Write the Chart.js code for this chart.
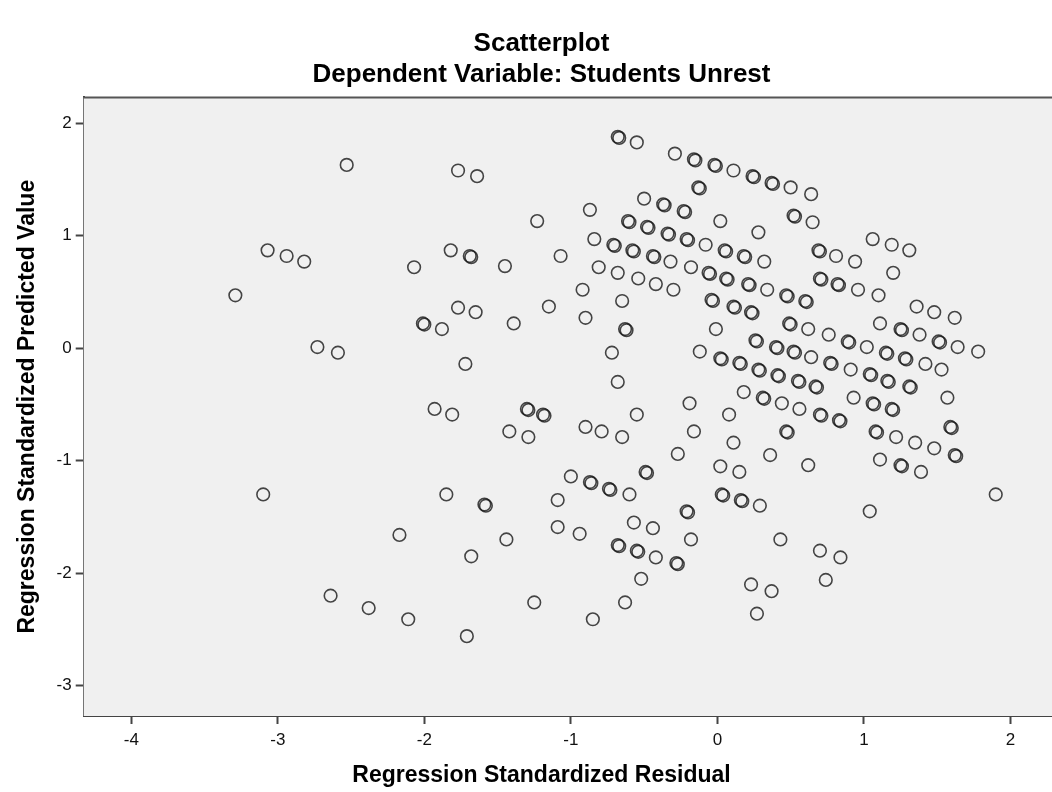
<!DOCTYPE html>
<html>
<head>
<meta charset="utf-8">
<script src="https://cdn.jsdelivr.net/npm/chart.js@4.4.1/dist/chart.umd.min.js"></script>
<style>
  html, body { margin: 0; padding: 0; background: #fff; overflow: hidden; }
  #wrap { width: 1082px; height: 792px; position: relative; }
</style>
</head>
<body>
<div id="wrap"><canvas id="scatter"></canvas></div>
<script>
// Regression Standardized Residual (x) / Regression Standardized Predicted Value (y)
// overlapping cases appear twice, that is what gives the darker rings
const residuals = [
  -3.29, -3.10, -3.07, -2.94, -2.82, -2.73, -2.64, -2.59, -2.53, -2.38,
  -2.17, -2.11, -2.07, -2.01, -2.00, -1.93, -1.88, -1.85, -1.82, -1.81, -1.77,
  -1.77, -1.72, -1.71, -1.69, -1.68, -1.68, -1.65, -1.64, -1.59, -1.58, -1.45, -1.44,
  -1.42, -1.39, -1.30, -1.29, -1.29, -1.25, -1.23, -1.19, -1.18, -1.15, -1.09, -1.09,
  -1.07, -1.00, -0.94, -0.92, -0.90, -0.90, -0.87, -0.86, -0.87, -0.85, -0.84,
  -0.81, -0.79, -0.74, -0.73, -0.72, -0.71, -0.70, -0.68, -0.67, -0.68, -0.68, -0.68, -0.67, -0.65,
  -0.65, -0.63, -0.62, -0.63, -0.61, -0.60, -0.60, -0.58, -0.57, -0.57, -0.55, -0.55, -0.55, -0.54,
  -0.54, -0.52, -0.50, -0.49, -0.48, -0.48, -0.47, -0.44, -0.43, -0.44, -0.42, -0.42, -0.37, -0.36,
  -0.34, -0.33, -0.32, -0.30, -0.29, -0.28, -0.27, -0.27, -0.23, -0.22, -0.21, -0.20, -0.21, -0.20, -0.19,
  -0.18, -0.18, -0.16, -0.15, -0.16, -0.13, -0.12, -0.12, -0.08, -0.06, -0.05, -0.04, -0.03, -0.02, -0.01,
  -0.01, 0.02, 0.02, 0.03, 0.02, 0.03, 0.04, 0.05, 0.06, 0.06, 0.07, 0.08, 0.11, 0.12, 0.11,
  0.11, 0.15, 0.16, 0.15, 0.16, 0.17, 0.18, 0.18, 0.19, 0.21, 0.22, 0.23, 0.23, 0.24, 0.24, 0.25,
  0.26, 0.27, 0.27, 0.28, 0.29, 0.28, 0.29, 0.31, 0.32, 0.32, 0.34, 0.36, 0.37,
  0.37, 0.38, 0.40, 0.41, 0.41, 0.42, 0.43, 0.44, 0.47, 0.48, 0.47, 0.48, 0.49, 0.50, 0.50, 0.52, 0.53,
  0.52, 0.53, 0.55, 0.56, 0.56, 0.60, 0.61, 0.62, 0.62, 0.64, 0.64, 0.65, 0.67, 0.68,
  0.69, 0.70, 0.70, 0.71, 0.70, 0.71, 0.70, 0.74, 0.76, 0.77, 0.78, 0.81, 0.82, 0.83, 0.83, 0.84,
  0.84, 0.89, 0.90, 0.91, 0.93, 0.94, 0.96, 1.02, 1.04, 1.05, 1.04, 1.06,
  1.06, 1.07, 1.08, 1.09, 1.10, 1.11, 1.11, 1.15, 1.16, 1.16, 1.17, 1.19, 1.19, 1.20, 1.20,
  1.22, 1.25, 1.26, 1.25, 1.26, 1.28, 1.29, 1.31, 1.32, 1.31, 1.35, 1.36, 1.38, 1.39,
  1.42, 1.48, 1.48, 1.51, 1.52, 1.53, 1.57, 1.59, 1.60, 1.62, 1.62, 1.63, 1.64, 1.78, 1.90
];

const predicted = [
  0.47, -1.30, 0.87, 0.82, 0.77, 0.01, -2.20, -0.04, 1.63, -2.31,
  -1.66, -2.41, 0.72, 0.22, 0.21, -0.54, 0.17, -1.30, 0.87, -0.59, 1.58,
  0.36, -0.14, -2.56, 0.82, 0.81, -1.85, 0.32, 1.53, -1.39, -1.40, 0.73, -1.70,
  -0.74, 0.22, -0.54, -0.55, -0.79, -2.26, 1.13, -0.59, -0.60, 0.37, -1.35, -1.59,
  0.82, -1.14, -1.65, 0.52, 0.27, -0.70, -1.19, -1.20, 1.23, -2.41, 0.97,
  0.72, -0.74, -1.25, -1.26, -0.04, 0.92, 0.91, 1.88, 1.87, -0.30, 0.67, -1.75, -1.76, 0.42,
  -0.79, 0.17, 0.16, -2.26, 1.13, 1.12, -1.30, 0.87, 0.86, -1.55, 1.83, -0.59, -1.80, -1.81,
  0.62, -2.05, 1.33, -1.10, -1.11, 1.08, 1.07, 0.82, 0.81, -1.60, -1.86, 0.57, 1.28, 1.27,
  1.02, 1.01, 0.77, 0.52, 1.73, -1.91, -1.92, -0.94, 1.22, 1.21, 0.97, 0.96, -1.45, -1.46, -0.49,
  0.72, -1.70, 1.68, 1.67, -0.74, 1.43, 1.42, -0.03, 0.92, 0.67, 0.66, 0.43, 0.42, 1.63, 1.62,
  0.17, 1.13, -0.09, -0.10, -1.05, -1.30, -1.31, 0.87, 0.86, 0.62, 0.61, -0.59, 0.37, 0.36, 1.58,
  -0.84, -0.13, -0.14, -1.10, -1.35, -1.36, -0.39, 0.82, 0.81, 0.57, 0.56, -2.10, 0.32, 0.31, 1.53, 1.52,
  0.07, 0.06, -2.36, -0.19, -0.20, 1.03, -1.40, -0.44, -0.45, 0.77, 0.52, -0.95, -2.16,
  1.47, 1.46, 0.01, 0.00, -0.24, -0.25, -1.70, -0.49, 0.47, 0.46, -0.74, -0.75, 0.22, 0.21, 1.43, -0.03, -0.04,
  1.18, 1.17, -0.29, -0.30, -0.54, 0.42, 0.41, 0.17, -1.04, 1.37, -0.08, 1.12, -0.34, -0.35,
  0.87, 0.86, 0.62, 0.61, -0.59, -0.60, -1.80, -2.06, 0.12, -0.13, -0.14, 0.82, 0.57, 0.56, -0.64, -0.65,
  -1.86, 0.06, 0.05, -0.19, -0.44, 0.77, 0.52, 0.01, -0.23, -0.24, -1.45, 0.97,
  -0.49, -0.50, -0.74, -0.75, 0.47, -0.99, 0.22, -0.04, -0.05, -0.29, -0.30, 0.92, -0.54, -0.55, 0.67,
  -0.79, 0.17, 0.16, -1.04, -1.05, -0.09, -0.10, -0.34, -0.35, 0.87, -0.84, 0.37, 0.12, -1.10,
  -0.14, 0.32, -0.89, 0.06, 0.05, -0.19, -0.44, -0.70, -0.71, 0.27, -0.95, -0.96, 0.01, -0.03, -1.30
];

const xTicks = [-4, -3, -2, -1, 0, 1, 2];
const yTicks = [-3, -2, -1, 0, 1, 2];
const titleLines = ['Scatterplot', 'Dependent Variable: Students Unrest'];
const xTitle = 'Regression Standardized Residual';
const yTitle = 'Regression Standardized Predicted Value';

const points = residuals.map((x, i) => ({ x: x, y: predicted[i] }));

// grey plot panel with a frame line on top, like the SPSS chart
const plotPanel = {
    id: 'plotPanel',
    beforeDatasetsDraw(chart) {
        const { ctx, chartArea: a } = chart;
        ctx.save();
        ctx.fillStyle = '#f0f0f0';
        ctx.fillRect(a.left, a.top, a.right - a.left, a.bottom - a.top);
        ctx.strokeStyle = '#555';
        ctx.lineWidth = 2;
        ctx.beginPath();
        ctx.moveTo(a.left, a.top);
        ctx.lineTo(a.right, a.top);
        ctx.stroke();
        ctx.restore();
    }
};

const FONT = "'Liberation Sans', Arial, sans-serif";

new Chart(document.getElementById('scatter'), {
    type: 'scatter',
    data: {
        datasets: [{
            data: points,
            pointStyle: 'circle',
            pointRadius: 6.3,
            pointBorderWidth: 1.6,
            pointBorderColor: 'rgba(25,25,25,0.8)',
            pointBackgroundColor: 'rgba(0,0,0,0)'
        }]
    },
    options: {
        responsive: true,
        maintainAspectRatio: false,
        animation: false,
        events: [],
        layout: { padding: { left: 14, right: 13, top: 0, bottom: 0 } },
        plugins: {
            legend: { display: false },
            tooltip: { enabled: false },
            title: {
                display: true,
                text: titleLines,
                color: '#000',
                font: { family: FONT, size: 26, weight: 'bold', lineHeight: 1.2 },
                padding: { top: 28, bottom: 7 }
            },
            subtitle: {
                display: true,
                position: 'bottom',
                text: xTitle,
                color: '#000',
                font: { family: FONT, size: 23, weight: 'bold', lineHeight: 1.2 },
                padding: { top: 5, bottom: 3 }
            }
        },
        scales: {
            x: {
                type: 'linear',
                min: -4.325,
                max: 2.4,
                afterBuildTicks: (axis) => { axis.ticks = xTicks.map(v => ({ value: v })); },
                ticks: {
                    color: '#111',
                    padding: 6,
                    font: { family: FONT, size: 17 },
                    callback: (v) => String(v)
                },
                grid: { drawOnChartArea: false, drawTicks: true, tickLength: 8, tickWidth: 2, color: '#444' },
                border: { display: true, color: '#444', width: 2 }
            },
            y: {
                type: 'linear',
                min: -3.27,
                max: 2.23,
                afterBuildTicks: (axis) => { axis.ticks = yTicks.map(v => ({ value: v })); },
                ticks: {
                    color: '#111',
                    padding: 4,
                    font: { family: FONT, size: 17 },
                    callback: (v) => String(v)
                },
                grid: { drawOnChartArea: false, drawTicks: true, tickLength: 8, tickWidth: 2, color: '#444' },
                border: { display: true, color: '#444', width: 2 },
                title: {
                    display: true,
                    text: yTitle,
                    color: '#000',
                    font: { family: FONT, size: 23, weight: 'bold', lineHeight: 1.2 },
                    padding: { top: 0, bottom: 11 }
                }
            }
        }
    },
    plugins: [plotPanel]
});
</script>
</body>
</html>
